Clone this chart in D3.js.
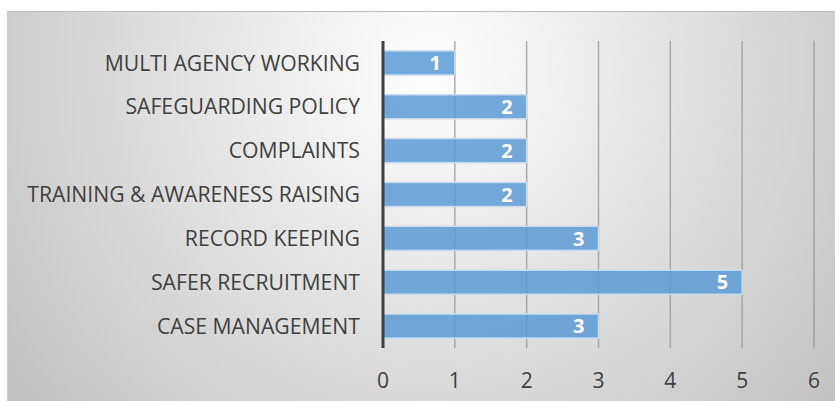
<!DOCTYPE html>
<html><head><meta charset="utf-8">
<script src="https://cdn.jsdelivr.net/npm/d3@7"></script>
<style>body{margin:0;background:#fff}svg{display:block}</style>
</head><body>
<svg id="c" width="835" height="401"></svg>
<script>
const categories = ["MULTI AGENCY WORKING","SAFEGUARDING POLICY","COMPLAINTS","TRAINING & AWARENESS RAISING","RECORD KEEPING","SAFER RECRUITMENT","CASE MANAGEMENT"];
const values = [1,2,2,2,3,5,3];
const ticks = [0,1,2,3,4,5,6];

const svg = d3.select("#c");
const defs = svg.append("defs");
const g = defs.append("radialGradient").attr("id","bg").attr("gradientUnits","userSpaceOnUse")
  .attr("cx",430).attr("cy",70).attr("r",520);
g.append("stop").attr("offset","0%").attr("stop-color","#ffffff");
g.append("stop").attr("offset","100%").attr("stop-color","#c2c2c2");
svg.append("rect").attr("x",7).attr("y",11).attr("width",830).attr("height",392).attr("fill","url(#bg)");
svg.append("line").attr("x1",7).attr("x2",835).attr("y1",11.5).attr("y2",11.5).attr("stroke","#bfbfbf");
svg.append("line").attr("x1",7.5).attr("x2",7.5).attr("y1",11).attr("y2",401).attr("stroke","#cfcfcf");

const font = "'Open Sans', sans-serif";
const x = d3.scaleLinear().domain([0,6]).range([383,814]);
const y = d3.scaleBand().domain(categories).range([41,348]).paddingInner(0.45).paddingOuter(0.225);

svg.append("g").selectAll("line").data(ticks.slice(1)).join("line")
  .attr("x1",d=>x(d)).attr("x2",d=>x(d)).attr("y1",41).attr("y2",348)
  .attr("stroke","#9a9a9a").attr("stroke-width",1.5).attr("opacity",0.8);

svg.append("g").selectAll("rect").data(values).join("rect")
  .attr("x",x(0)).attr("y",(d,i)=>y(categories[i]))
  .attr("width",d=>x(d)-x(0)).attr("height",y.bandwidth())
  .attr("fill","#5b9bd5").attr("fill-opacity",0.85)
  .attr("stroke","#c9dcef").attr("stroke-width",1.5);

svg.append("g").selectAll("text").data(values).join("text")
  .attr("x",d=>x(d)-14).attr("y",(d,i)=>y(categories[i])+y.bandwidth()/2)
  .attr("dy","0.36em").attr("text-anchor","end")
  .attr("font-family",font).attr("font-size",20).attr("font-weight","bold").attr("fill","#fff")
  .text(d=>d);

svg.append("line").attr("x1",x(0)).attr("x2",x(0)).attr("y1",41).attr("y2",348)
  .attr("stroke","#404040").attr("stroke-width",3);

svg.append("g").selectAll("text").data(categories).join("text")
  .attr("x",360).attr("y",d=>y(d)+y.bandwidth()/2).attr("dy","0.36em").attr("text-anchor","end")
  .attr("font-family",font).attr("font-size",21.2).attr("fill","#404040").text(d=>d);

svg.append("g").selectAll("text").data(ticks).join("text")
  .attr("x",d=>x(d)).attr("y",380).attr("dy","0.36em").attr("text-anchor","middle")
  .attr("font-family",font).attr("font-size",21).attr("fill","#404040").text(d=>d);
</script>
</body></html>
